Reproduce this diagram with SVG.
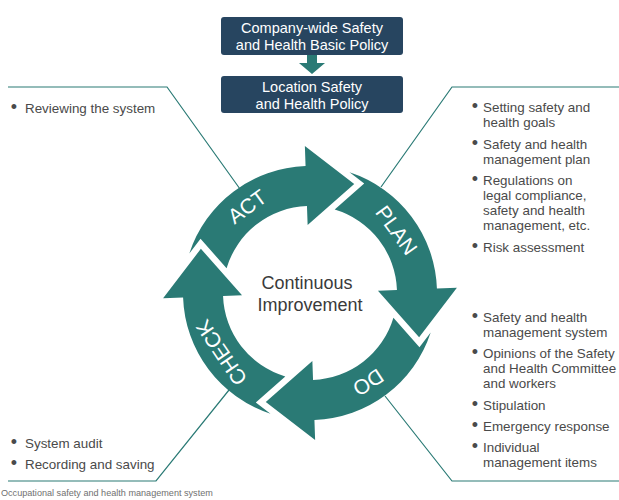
<svg xmlns="http://www.w3.org/2000/svg" width="619" height="500" viewBox="0 0 619 500">
<style>
.arrow{fill:#2a7a75}
.lbl{font-family:"Liberation Sans",Arial,sans-serif;font-size:21px;fill:#ffffff;text-anchor:middle}
.box{fill:#274560}
.bt{font-family:"Liberation Sans",Arial,sans-serif;font-size:14.5px;fill:#ffffff;text-anchor:middle}
.li{font-family:"Liberation Sans",Arial,sans-serif;font-size:13.4px;fill:#4a4a4a}
.bul{font-family:"Liberation Sans",Arial,sans-serif;font-size:18px;fill:#4a4a4a;text-anchor:middle}
.conn{fill:none;stroke:#2a7a75;stroke-width:1.2}
.ctr{font-family:"Liberation Sans",Arial,sans-serif;font-size:18px;fill:#3a3a3a;text-anchor:middle}
.cap{font-family:"Liberation Sans",Arial,sans-serif;font-size:9.1px;fill:#707070}
</style>
<defs>
<path id="seg" class="arrow" d="M -120.69 -39.54 L -109.46 -54.2 L -83.42 -24.71 A 87 87 0 0 1 -3.04 -86.95 L -2.37 -67.96 L 44.22 -109.11 L -5.13 -146.91 L -4.43 -126.92 A 127 127 0 0 0 -120.69 -39.54 Z"/>
</defs>
<g id="connectors">
<path class="conn" d="M 8 87 H 167 L 240 189"/>
<path class="conn" d="M 619 87 H 452 L 381 187"/>
<path class="conn" d="M 8 481 H 156 L 229 390"/>
<path class="conn" d="M 619 481 H 452 L 385 396"/>
<path class="arrow" d="M 307 55 H 317 V 63 H 325 L 312 74 L 299 63 H 307 Z"/>
</g>
<g id="policy-company">
<rect class="box" x="221" y="17" width="182" height="38" rx="3"/>
<text class="bt" x="312" y="33">Company-wide Safety</text>
<text class="bt" x="312" y="50">and Health Basic Policy</text>
</g>
<g id="policy-location">
<rect class="box" x="221" y="76" width="182" height="37" rx="3"/>
<text class="bt" x="312" y="92">Location Safety</text>
<text class="bt" x="312" y="109">and Health Policy</text>
</g>
<g id="act" transform="translate(310 293)">
<use href="#seg"/>
<text class="lbl" transform="translate(-62.9 -86.6) rotate(-36)" y="7.5">ACT</text>
</g>
<g id="plan" transform="translate(310 293) rotate(90)">
<use href="#seg"/>
<text class="lbl" transform="translate(-62.9 -86.6) rotate(-36)" y="7.5">PLAN</text>
</g>
<g id="do" transform="translate(310 293) rotate(180)">
<use href="#seg"/>
<text class="lbl" transform="translate(-58.3 -89.7) rotate(-33)" y="7.5">DO</text>
</g>
<g id="check" transform="translate(310 293) rotate(270)">
<use href="#seg"/>
<text class="lbl" transform="translate(-59.8 -88.7) rotate(-34)" y="7.5">CHECK</text>
</g>
<g id="center-label">
<text class="ctr" x="307" y="289">Continuous</text>
<text class="ctr" x="310" y="311">Improvement</text>
</g>
<g id="notes-act">
<text class="bul" x="14" y="113">•</text>
<text class="li" x="25" y="113">Reviewing the system</text>
</g>
<g id="notes-plan">
<text class="bul" x="475" y="112">•</text>
<text class="bul" x="475" y="149">•</text>
<text class="bul" x="475" y="185">•</text>
<text class="bul" x="475" y="252">•</text>
<text class="li" x="483" y="112">Setting safety and</text>
<text class="li" x="483" y="127">health goals</text>
<text class="li" x="483" y="149">Safety and health</text>
<text class="li" x="483" y="164">management plan</text>
<text class="li" x="483" y="185">Regulations on</text>
<text class="li" x="483" y="200">legal compliance,</text>
<text class="li" x="483" y="215">safety and health</text>
<text class="li" x="483" y="230">management, etc.</text>
<text class="li" x="483" y="252">Risk assessment</text>
</g>
<g id="notes-do">
<text class="bul" x="475" y="322">•</text>
<text class="bul" x="475" y="358">•</text>
<text class="bul" x="475" y="410">•</text>
<text class="bul" x="475" y="431">•</text>
<text class="bul" x="475" y="452">•</text>
<text class="li" x="483" y="322">Safety and health</text>
<text class="li" x="483" y="337">management system</text>
<text class="li" x="483" y="358">Opinions of the Safety</text>
<text class="li" x="483" y="373">and Health Committee</text>
<text class="li" x="483" y="388">and workers</text>
<text class="li" x="483" y="410">Stipulation</text>
<text class="li" x="483" y="431">Emergency response</text>
<text class="li" x="483" y="452">Individual</text>
<text class="li" x="483" y="467">management items</text>
</g>
<g id="notes-check">
<text class="bul" x="14" y="448">•</text>
<text class="bul" x="14" y="469">•</text>
<text class="li" x="25" y="448">System audit</text>
<text class="li" x="25" y="469">Recording and saving</text>
</g>
<g id="caption">
<text class="cap" x="1" y="496">Occupational safety and health management system</text>
</g>
</svg>
